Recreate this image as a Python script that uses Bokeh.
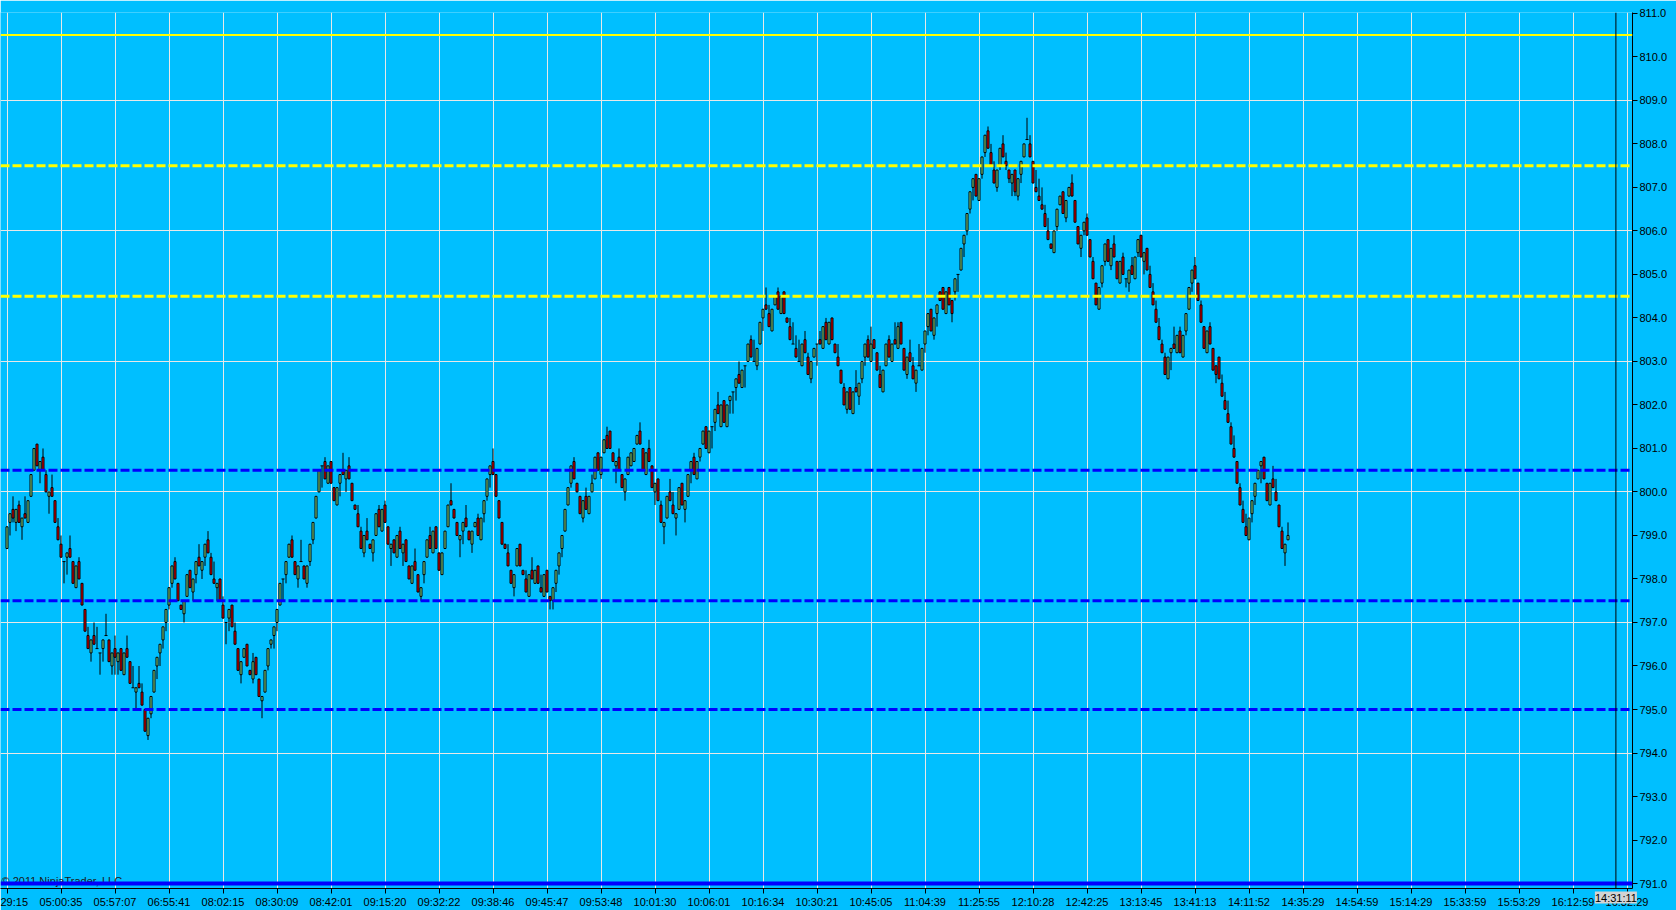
from bokeh.plotting import figure
from bokeh.models import (ColumnDataSource, Range1d, FixedTicker, PrintfTickFormatter,
                          Span, Label)
from bokeh.embed import file_html
from bokeh.resources import INLINE

# ---------------- data ----------------
time_labels = ["29:15", "05:00:35", "05:57:07", "06:55:41", "08:02:15", "08:30:09",
               "08:42:01", "09:15:20", "09:32:22", "09:38:46", "09:45:47", "09:53:48",
               "10:01:30", "10:06:01", "10:16:34", "10:30:21", "10:45:05", "11:04:39",
               "11:25:55", "12:10:28", "12:42:25", "13:13:45", "13:41:13", "14:11:52",
               "14:35:29", "14:54:59", "15:14:29", "15:33:59", "15:53:29", "16:12:59",
               "16:32:29"]
bars_per_label = 18

opens = [
    798.7, 799.3, 799.6, 799.3, 799.7, 799.2, 799.5, 799.3, 799.9, 800.5, 801.1, 800.5, 800.8, 800.4, 799.9, 800.1, 799.8, 799.2,
    798.8, 798.4, 798.5, 798.7, 798.4, 797.8, 798.4, 797.9, 797.3, 796.7, 796.3, 796.7, 796.4, 796.3, 796.4, 796.7, 796.6, 796.0,
    796.4, 796.1, 796.4, 795.8, 796.4, 796.1, 795.5, 795.4, 795.6, 795.4, 795.0, 794.4, 794.9, 795.4, 796.0, 796.3, 796.6, 797.0,
    797.4, 797.9, 798.4, 797.9, 797.4, 797.2, 797.6, 798.2, 797.7, 798.1, 798.5, 798.2, 798.5, 798.9, 798.5, 798.0, 797.8, 798.0,
    797.4, 797.0, 797.1, 797.4, 796.8, 796.4, 795.8, 796.2, 796.5, 795.9, 795.7, 796.2, 795.7, 795.2, 795.4, 796.0, 796.5, 796.7,
    797.0, 797.4, 798.0, 798.1, 798.5, 798.9, 798.4, 798.0, 798.4, 798.3, 797.9, 798.4, 798.9, 799.4, 800.0, 800.6, 800.7, 800.2,
    800.7, 800.1, 799.7, 800.2, 800.5, 800.3, 800.6, 800.2, 799.7, 799.5, 799.1, 798.6, 799.1, 798.8, 798.6, 799.0, 799.6, 799.1,
    799.7, 799.2, 798.7, 798.9, 798.5, 799.1, 798.6, 798.9, 798.3, 797.9, 798.4, 798.1, 797.6, 798.1, 798.5, 799.0, 798.6, 799.2,
    798.6, 798.1, 798.7, 799.2, 799.8, 799.6, 799.3, 798.9, 799.1, 799.4, 799.1, 798.8, 799.2, 799.4, 798.9, 799.5, 799.9, 800.4,
    800.7, 800.4, 799.8, 799.3, 798.8, 798.6, 798.2, 797.8, 798.3, 798.8, 798.2, 798.0, 797.6, 798.2, 797.9, 798.3, 797.8, 797.6,
    798.2, 797.6, 797.5, 797.9, 798.3, 798.7, 799.1, 799.7, 800.2, 800.7, 800.2, 799.9, 799.4, 799.9, 799.5, 800.0, 800.3, 800.9,
    800.4, 800.9, 801.3, 801.4, 800.9, 800.6, 800.8, 800.4, 800.0, 800.4, 800.6, 800.7, 801.1, 801.4, 801.0, 800.4, 801.0, 800.6,
    800.0, 800.3, 799.7, 799.2, 799.4, 800.0, 799.7, 799.4, 799.6, 800.2, 799.6, 799.9, 800.5, 800.8, 800.3, 800.8, 801.1, 801.5,
    800.9, 801.5, 801.6, 802.0, 801.5, 802.1, 801.5, 802.1, 802.3, 802.4, 802.7, 802.4, 802.9, 803.0, 803.5, 803.0, 802.9, 803.4,
    804.0, 804.3, 804.1, 803.7, 804.3, 804.6, 804.1, 804.6, 804.0, 803.8, 803.4, 803.3, 803.0, 802.9, 803.5, 803.1, 802.6, 803.1,
    803.4, 803.5, 803.3, 803.9, 803.4, 804.0, 803.4, 803.1, 802.8, 802.4, 801.9, 802.4, 801.8, 802.4, 802.2, 802.6, 803.1, 803.5,
    803.0, 803.5, 803.2, 802.7, 802.3, 802.9, 803.5, 803.0, 803.5, 803.3, 803.9, 803.3, 802.7, 803.2, 802.9, 802.5, 802.9, 802.8,
    803.4, 803.8, 804.2, 803.6, 804.1, 804.6, 804.7, 804.1, 804.7, 804.4, 804.6, 805.0, 805.1, 805.7, 806.0, 806.5, 807.0, 807.3,
    806.7, 807.3, 807.8, 808.3, 807.8, 807.4, 807.0, 807.5, 808.0, 807.6, 807.4, 807.1, 807.4, 806.8, 807.3, 807.7, 808.1, 808.0,
    807.6, 807.0, 806.8, 806.6, 806.4, 806.0, 805.7, 805.5, 806.1, 806.6, 806.9, 806.3, 806.8, 807.1, 806.7, 806.1, 805.6, 806.0,
    806.3, 805.8, 805.3, 804.8, 804.2, 804.8, 805.3, 805.8, 805.2, 805.7, 805.3, 804.8, 805.4, 804.9, 804.8, 805.2, 804.9, 805.5,
    805.9, 805.3, 805.6, 805.0, 804.6, 804.2, 803.8, 803.4, 803.1, 802.6, 803.2, 803.4, 803.2, 803.7, 803.1, 803.7, 804.2, 804.8,
    805.2, 804.8, 804.3, 803.8, 803.2, 803.8, 803.3, 802.9, 803.1, 802.5, 802.1, 801.8, 801.5, 801.0, 800.7, 800.1, 799.6, 799.2,
    798.9, 799.5, 799.9, 800.3, 800.6, 800.8, 800.2, 799.7, 800.3, 800.0, 799.7, 799.1, 798.6, 798.9]

closes = [
    799.2, 799.5, 799.4, 799.6, 799.3, 799.4, 799.4, 799.8, 800.4, 801.0, 800.6, 800.7, 800.5, 800.0, 800.0, 799.9, 799.3, 798.9,
    798.5, 798.4, 798.6, 798.5, 797.9, 798.3, 798.0, 797.4, 796.8, 796.4, 796.6, 796.5, 796.4, 796.3, 796.6, 796.7, 796.1, 796.3,
    796.2, 796.3, 795.9, 796.3, 796.2, 795.6, 795.5, 795.5, 795.5, 795.1, 794.5, 794.8, 795.3, 795.9, 796.2, 796.5, 796.9, 797.3,
    797.8, 798.3, 798.0, 797.5, 797.3, 797.5, 798.1, 797.8, 798.0, 798.4, 798.3, 798.4, 798.8, 798.6, 798.1, 797.9, 797.9, 797.5,
    797.1, 797.0, 797.3, 796.9, 796.5, 795.9, 796.1, 796.4, 796.0, 795.8, 796.1, 795.8, 795.3, 795.3, 795.9, 796.4, 796.6, 796.9,
    797.3, 797.9, 798.0, 798.4, 798.8, 798.5, 798.1, 798.3, 798.4, 798.0, 798.3, 798.8, 799.3, 799.9, 800.5, 800.6, 800.3, 800.6,
    800.2, 799.8, 800.1, 800.4, 800.4, 800.5, 800.3, 799.8, 799.6, 799.2, 798.7, 799.0, 798.9, 798.7, 798.9, 799.5, 799.2, 799.6,
    799.3, 798.8, 798.8, 798.6, 799.0, 798.7, 798.8, 798.4, 798.0, 798.3, 798.2, 797.7, 797.8, 798.4, 798.9, 798.7, 799.1, 798.7,
    798.2, 798.6, 799.1, 799.7, 799.7, 799.4, 799.0, 799.0, 799.3, 799.2, 798.9, 799.1, 799.3, 799.0, 799.4, 799.8, 800.3, 800.6,
    800.4, 799.9, 799.4, 798.8, 798.7, 798.3, 797.9, 798.1, 798.7, 798.3, 798.1, 797.7, 798.1, 798.0, 798.2, 797.9, 797.7, 798.1,
    797.7, 797.5, 797.8, 798.2, 798.6, 799.0, 799.6, 800.1, 800.6, 800.3, 800.0, 799.5, 799.8, 799.6, 799.9, 800.2, 800.8, 800.5,
    800.8, 801.2, 801.0, 801.0, 800.7, 800.7, 800.5, 800.1, 800.3, 800.8, 800.9, 801.0, 801.3, 801.1, 800.5, 800.9, 800.7, 800.1,
    800.2, 799.8, 799.3, 799.3, 799.9, 799.8, 799.5, 799.5, 800.1, 799.7, 799.8, 800.4, 800.7, 800.4, 800.7, 801.0, 801.4, 801.0,
    801.4, 801.5, 801.9, 801.8, 802.0, 801.6, 802.0, 802.2, 802.3, 802.6, 802.5, 802.8, 802.9, 803.4, 803.1, 803.0, 803.3, 803.9,
    804.2, 804.2, 803.8, 804.2, 804.5, 804.2, 804.5, 804.1, 803.9, 803.5, 803.4, 803.1, 803.0, 803.4, 803.2, 802.7, 803.0, 803.3,
    803.4, 803.4, 803.8, 803.5, 803.9, 803.5, 803.2, 802.9, 802.5, 802.0, 802.3, 801.9, 802.3, 802.3, 802.5, 803.0, 803.4, 803.1,
    803.4, 803.3, 802.8, 802.4, 802.8, 803.4, 803.1, 803.4, 803.4, 803.8, 803.4, 802.8, 803.1, 803.0, 802.6, 802.8, 802.9, 803.3,
    803.7, 804.1, 803.7, 804.0, 804.3, 804.4, 804.2, 804.6, 804.3, 804.1, 804.9, 805.0, 805.6, 805.9, 806.4, 806.9, 807.2, 806.8,
    807.2, 807.7, 808.2, 807.9, 807.5, 807.1, 807.4, 807.9, 807.7, 807.5, 807.2, 807.3, 806.9, 807.2, 807.6, 808.0, 808.1, 807.7,
    807.1, 806.9, 806.7, 806.5, 806.1, 805.8, 805.6, 806.0, 806.5, 806.8, 806.4, 806.7, 807.0, 806.8, 806.2, 805.7, 805.9, 806.2,
    805.9, 805.4, 804.9, 804.3, 804.7, 805.2, 805.7, 805.3, 805.6, 805.4, 804.9, 805.3, 805.0, 804.9, 805.1, 805.0, 805.4, 805.8,
    805.4, 805.5, 805.1, 804.7, 804.3, 803.9, 803.5, 803.2, 802.7, 803.1, 803.3, 803.3, 803.6, 803.2, 803.6, 804.1, 804.7, 805.1,
    804.9, 804.4, 803.9, 803.3, 803.7, 803.4, 802.8, 802.7, 802.6, 802.2, 801.9, 801.6, 801.1, 800.8, 800.2, 799.7, 799.3, 799.0,
    799.4, 799.8, 800.2, 800.5, 800.7, 800.3, 799.8, 800.2, 800.1, 799.8, 799.2, 798.7, 798.8, 799.0]

highs = [
    799.2, 799.5, 799.9, 799.6, 799.8, 799.4, 799.9, 799.8, 800.4, 801.0, 801.1, 800.7, 801.0, 800.5, 800.0, 800.4, 799.8, 799.4,
    799.0, 798.4, 798.6, 799.0, 798.4, 798.3, 798.5, 797.9, 797.3, 796.9, 796.6, 797.0, 796.9, 796.3, 796.6, 797.2, 796.6, 796.3,
    796.7, 796.3, 796.4, 796.3, 796.7, 796.1, 796.0, 795.5, 796.0, 795.6, 795.0, 794.8, 795.3, 795.9, 796.2, 796.5, 796.9, 797.3,
    797.8, 798.3, 798.5, 797.9, 797.4, 797.5, 798.1, 798.2, 798.0, 798.4, 798.8, 798.4, 798.8, 799.1, 798.6, 798.4, 797.9, 798.0,
    797.6, 797.0, 797.3, 797.4, 797.0, 796.4, 796.1, 796.4, 796.5, 795.9, 796.3, 796.2, 795.7, 795.3, 795.9, 796.4, 796.6, 796.9,
    797.3, 797.9, 798.0, 798.4, 798.8, 799.0, 798.4, 798.3, 798.9, 798.3, 798.3, 798.8, 799.3, 799.9, 800.5, 800.6, 800.8, 800.6,
    800.7, 800.1, 800.1, 800.4, 800.9, 800.5, 800.8, 800.2, 799.7, 799.7, 799.2, 799.0, 799.4, 798.8, 798.9, 799.5, 799.7, 799.6,
    799.8, 799.2, 798.8, 798.9, 799.0, 799.2, 798.8, 798.9, 798.3, 798.3, 798.7, 798.1, 797.8, 798.4, 798.9, 799.2, 799.1, 799.2,
    798.6, 798.6, 799.1, 799.7, 800.2, 799.6, 799.3, 799.0, 799.3, 799.7, 799.1, 799.1, 799.3, 799.5, 799.4, 799.8, 800.3, 800.6,
    801.0, 800.4, 799.8, 799.3, 798.8, 798.8, 798.2, 798.1, 798.7, 798.8, 798.2, 798.2, 798.1, 798.5, 798.2, 798.3, 798.1, 798.1,
    798.2, 797.6, 797.8, 798.2, 798.6, 799.0, 799.6, 800.1, 800.6, 800.8, 800.2, 799.9, 799.8, 800.1, 799.9, 800.4, 800.8, 800.9,
    800.8, 801.2, 801.5, 801.4, 800.9, 800.7, 801.0, 800.4, 800.3, 800.8, 800.9, 801.0, 801.3, 801.6, 801.0, 800.9, 801.2, 800.6,
    800.2, 800.3, 799.8, 799.3, 799.9, 800.3, 800.0, 799.5, 800.1, 800.2, 799.8, 800.4, 800.7, 800.9, 800.7, 801.0, 801.4, 801.5,
    801.4, 801.5, 801.9, 802.3, 802.0, 802.1, 802.0, 802.2, 802.3, 802.6, 803.0, 802.8, 802.9, 803.4, 803.6, 803.5, 803.3, 803.9,
    804.2, 804.7, 804.3, 804.2, 804.5, 804.7, 804.5, 804.6, 804.0, 804.0, 803.9, 803.6, 803.5, 803.4, 803.7, 803.2, 803.0, 803.3,
    803.4, 803.7, 803.8, 804.0, 803.9, 804.0, 803.4, 803.4, 802.8, 802.5, 802.3, 802.4, 802.3, 802.8, 802.5, 803.0, 803.4, 803.6,
    803.8, 803.5, 803.2, 802.9, 802.8, 803.4, 803.6, 803.4, 803.9, 803.9, 803.9, 803.3, 803.1, 803.5, 803.1, 802.8, 803.4, 803.3,
    803.7, 804.1, 804.2, 804.0, 804.3, 804.6, 804.7, 804.6, 804.7, 804.4, 804.9, 805.0, 805.6, 805.9, 806.4, 806.9, 807.2, 807.3,
    807.2, 807.7, 808.2, 808.4, 808.0, 807.6, 807.4, 807.9, 808.2, 807.8, 807.4, 807.3, 807.4, 807.2, 807.6, 808.0, 808.6, 808.2,
    807.6, 807.4, 807.2, 807.0, 806.6, 806.3, 805.7, 806.0, 806.5, 806.8, 806.9, 806.7, 807.0, 807.3, 806.7, 806.1, 805.9, 806.2,
    806.4, 805.8, 805.4, 804.8, 804.7, 805.2, 805.7, 805.8, 805.6, 805.9, 805.3, 805.3, 805.5, 804.9, 805.1, 805.4, 805.4, 805.8,
    805.9, 805.5, 805.6, 805.2, 804.8, 804.4, 804.0, 803.5, 803.2, 803.1, 803.3, 803.8, 803.6, 803.8, 803.6, 804.1, 804.7, 805.1,
    805.4, 804.8, 804.4, 803.8, 803.7, 803.9, 803.3, 802.9, 803.1, 802.7, 802.3, 802.1, 801.6, 801.3, 800.7, 800.2, 799.8, 799.5,
    799.4, 799.8, 800.2, 800.5, 800.7, 800.8, 800.2, 800.2, 800.6, 800.3, 799.7, 799.2, 798.8, 799.3]

lows = [
    798.7, 799.0, 799.3, 799.1, 799.3, 798.9, 799.4, 799.3, 799.9, 800.5, 800.6, 800.2, 800.5, 800.0, 799.5, 799.9, 799.3, 798.9,
    798.5, 797.9, 798.1, 798.5, 797.9, 797.8, 798.0, 797.4, 796.8, 796.4, 796.1, 796.5, 796.4, 795.8, 796.1, 796.7, 796.1, 795.8,
    795.8, 795.8, 795.9, 795.8, 796.2, 795.6, 795.5, 795.0, 795.5, 795.1, 794.5, 794.3, 794.8, 795.4, 795.7, 796.0, 796.4, 796.8,
    797.3, 797.8, 798.0, 797.5, 797.3, 797.0, 797.6, 797.8, 797.5, 797.9, 798.3, 798.0, 798.3, 798.6, 798.1, 797.9, 797.5, 797.5,
    797.1, 796.5, 796.8, 796.9, 796.5, 795.9, 795.6, 796.2, 796.0, 795.8, 795.6, 795.8, 795.3, 794.8, 795.4, 795.9, 796.4, 796.4,
    796.8, 797.4, 797.5, 797.9, 798.5, 798.5, 798.1, 797.8, 798.4, 798.0, 797.8, 798.3, 798.8, 799.4, 800.0, 800.1, 800.3, 800.2,
    800.2, 799.8, 799.7, 799.9, 800.4, 800.0, 800.3, 799.8, 799.6, 799.2, 798.7, 798.5, 798.9, 798.7, 798.4, 799.0, 799.2, 799.1,
    799.3, 798.8, 798.3, 798.6, 798.5, 798.7, 798.3, 798.4, 798.0, 797.9, 798.2, 797.7, 797.5, 797.9, 798.5, 798.7, 798.6, 798.7,
    798.2, 798.1, 798.7, 799.2, 799.7, 799.4, 799.0, 798.5, 798.8, 799.2, 798.9, 798.6, 799.2, 799.0, 798.9, 799.3, 799.8, 800.1,
    800.4, 799.9, 799.4, 798.8, 798.7, 798.3, 797.9, 797.6, 798.3, 798.3, 798.1, 797.7, 797.6, 798.0, 797.9, 797.9, 797.7, 797.6,
    797.7, 797.3, 797.3, 797.7, 798.1, 798.5, 799.1, 799.7, 800.1, 800.3, 800.0, 799.5, 799.3, 799.6, 799.5, 800.0, 800.3, 800.5,
    800.3, 800.9, 801.0, 801.0, 800.7, 800.2, 800.5, 800.1, 799.8, 800.4, 800.6, 800.7, 801.1, 801.1, 800.5, 800.4, 800.7, 800.1,
    799.7, 799.8, 799.3, 798.8, 799.4, 799.8, 799.5, 799.0, 799.6, 799.7, 799.3, 799.9, 800.2, 800.4, 800.3, 800.7, 801.1, 801.0,
    800.9, 801.0, 801.4, 801.8, 801.5, 801.6, 801.5, 801.8, 801.8, 802.1, 802.5, 802.4, 802.4, 803.0, 803.1, 803.0, 802.8, 803.4,
    803.7, 804.2, 803.8, 803.7, 804.3, 804.2, 804.1, 804.1, 803.9, 803.5, 803.4, 803.1, 803.0, 802.9, 803.2, 802.7, 802.5, 803.1,
    802.9, 803.4, 803.3, 803.5, 803.4, 803.5, 803.2, 802.9, 802.5, 802.0, 801.8, 801.9, 801.8, 802.3, 802.0, 802.5, 802.9, 803.1,
    803.0, 803.3, 802.8, 802.4, 802.3, 802.9, 803.1, 803.0, 803.4, 803.3, 803.4, 802.8, 802.6, 803.0, 802.6, 802.3, 802.9, 802.8,
    803.2, 803.6, 803.7, 803.5, 803.8, 804.4, 804.2, 804.1, 804.3, 803.9, 804.4, 804.6, 805.1, 805.4, 805.9, 806.4, 806.7, 806.8,
    806.7, 807.2, 807.7, 807.9, 807.5, 807.1, 806.9, 807.4, 807.7, 807.4, 807.1, 806.8, 806.8, 806.7, 807.1, 807.7, 808.1, 807.7,
    807.1, 806.9, 806.7, 806.5, 806.1, 805.8, 805.6, 805.5, 806.0, 806.6, 806.4, 806.2, 806.8, 806.8, 806.2, 805.7, 805.4, 805.9,
    805.9, 805.4, 804.9, 804.3, 804.2, 804.7, 805.2, 805.3, 805.1, 805.4, 804.9, 804.8, 805.0, 804.7, 804.6, 805.0, 804.9, 805.4,
    805.4, 805.0, 805.1, 804.7, 804.3, 803.9, 803.5, 803.2, 802.7, 802.6, 802.8, 803.3, 803.2, 803.2, 803.1, 803.6, 804.2, 804.6,
    804.9, 804.4, 803.9, 803.3, 803.2, 803.4, 802.8, 802.5, 802.6, 802.2, 801.9, 801.6, 801.1, 800.8, 800.2, 799.7, 799.3, 799.0,
    798.9, 799.3, 799.7, 800.3, 800.2, 800.3, 799.8, 799.7, 800.1, 799.8, 799.2, 798.7, 798.3, 798.9]

cursor_time = "14:31:11"
cursor_bar = 536.3
solid_yellow_levels = [810.5]
dashed_yellow_levels = [807.5, 804.5]
dashed_blue_levels = [800.5, 797.5, 795.0]
solid_blue_levels = [791.0]
price_ticks = [791, 792, 793, 794, 795, 796, 797, 798, 799, 800, 801,
               802, 803, 804, 805, 806, 807, 808, 809, 810, 811]
price_grid = [794, 797, 800, 803, 806, 809]
copyright_text = "\u00a9 2011 NinjaTrader, LLC"

# ---------------- figure ----------------
n = len(closes)
assert len(opens) == n and len(highs) == n and len(lows) == n
idx = list(range(n))

BG = "#00BFFF"
FONT = "Liberation Sans"

# 3 px per bar, bar i centred at 6.5 + 3 i px from the frame's left edge (frame 1632 px wide)
X0 = -6.5 / 3.0
X1 = X0 + 1632 / 3.0
Y0, Y1 = 790.886, 811.02

p = figure(width=1676, height=910, output_backend="svg", toolbar_location=None,
           x_range=Range1d(X0, X1), y_range=Range1d(Y0, Y1),
           y_axis_location="right",
           min_border_left=0, min_border_top=0, min_border_right=44, min_border_bottom=20,
           background_fill_color=BG, border_fill_color=BG, outline_line_color=None)

# grid
x_ticks = [k * bars_per_label for k in range(len(time_labels))]
p.xgrid.ticker = FixedTicker(ticks=x_ticks)
p.ygrid.ticker = FixedTicker(ticks=price_grid)
p.grid.grid_line_color = "#E8E8E8"
p.grid.grid_line_width = 1

# candles
hi = [max(highs[i], opens[i], closes[i]) for i in idx]
lo = [min(lows[i], opens[i], closes[i]) for i in idx]
p.segment(x0=idx, y0=lo, x1=idx, y1=hi, line_color="black", line_width=1)

up = [i for i in idx if closes[i] > opens[i]]
dn = [i for i in idx if closes[i] < opens[i]]
dj = [i for i in idx if closes[i] == opens[i]]

up_src = ColumnDataSource(dict(x=up, top=[closes[i] for i in up], bottom=[opens[i] for i in up]))
dn_src = ColumnDataSource(dict(x=dn, top=[opens[i] for i in dn], bottom=[closes[i] for i in dn]))
BW = 2.0 / 3.0
p.vbar(x="x", width=BW, top="top", bottom="bottom", source=up_src,
       fill_color="#90EE90", line_color="black", line_width=1)
p.vbar(x="x", width=BW, top="top", bottom="bottom", source=dn_src,
       fill_color="#FF0000", line_color="black", line_width=1)
p.segment(x0=[i - 0.5 for i in dj], y0=[opens[i] for i in dj],
          x1=[i + 0.5 for i in dj], y1=[opens[i] for i in dj],
          line_color="black", line_width=1)

# copyright text (under the bottom line)
p.add_layout(Label(x=X0, y=solid_blue_levels[0], x_offset=1, y_offset=3, text=copyright_text,
                   text_font=FONT, text_font_size="11px", text_color="#1a1a1a",
                   text_baseline="middle", text_align="left"))

# level lines
for lv in solid_yellow_levels:
    p.add_layout(Span(location=lv, dimension="width", line_color="#FFFF00", line_width=2))
for lv in dashed_yellow_levels:
    p.add_layout(Span(location=lv, dimension="width", line_color="#FFFF00", line_width=3,
                      line_dash="9 3"))
for lv in dashed_blue_levels:
    p.add_layout(Span(location=lv, dimension="width", line_color="#0000FF", line_width=3,
                      line_dash="9 3"))
for lv in solid_blue_levels:
    p.add_layout(Span(location=lv, dimension="width", line_color="#0000FF", line_width=4))

# cursor line
p.add_layout(Span(location=cursor_bar, dimension="height", line_color="black", line_width=1))

# axes
xa = p.xaxis[0]
xa.ticker = FixedTicker(ticks=x_ticks)
xa.major_label_overrides = {t: lab for t, lab in zip(x_ticks, time_labels)}
ya = p.yaxis[0]
ya.ticker = FixedTicker(ticks=price_ticks)
ya.formatter = PrintfTickFormatter(format="%.1f")
for ax in (xa, ya):
    ax.axis_line_color = "black"
    ax.axis_line_width = 1
    ax.major_tick_line_color = "black"
    ax.major_tick_out = 5
    ax.major_tick_in = 0
    ax.minor_tick_line_color = None
    ax.major_label_text_font = FONT
    ax.major_label_text_font_size = "11px"
    ax.major_label_text_color = "black"
    ax.major_label_standoff = 2

# cursor time box on the time axis (kept in a side panel so it is drawn outside the frame)
p.add_layout(Label(x=cursor_bar, y=Y0, y_offset=-3, text=cursor_time,
                   text_font=FONT, text_font_size="11px", text_color="black",
                   background_fill_color="#D3D3D3", text_baseline="top", text_align="center"),
             "above")

with open("out.html", "w", encoding="utf-8") as f:
    f.write(file_html(p, INLINE, title="chart"))
